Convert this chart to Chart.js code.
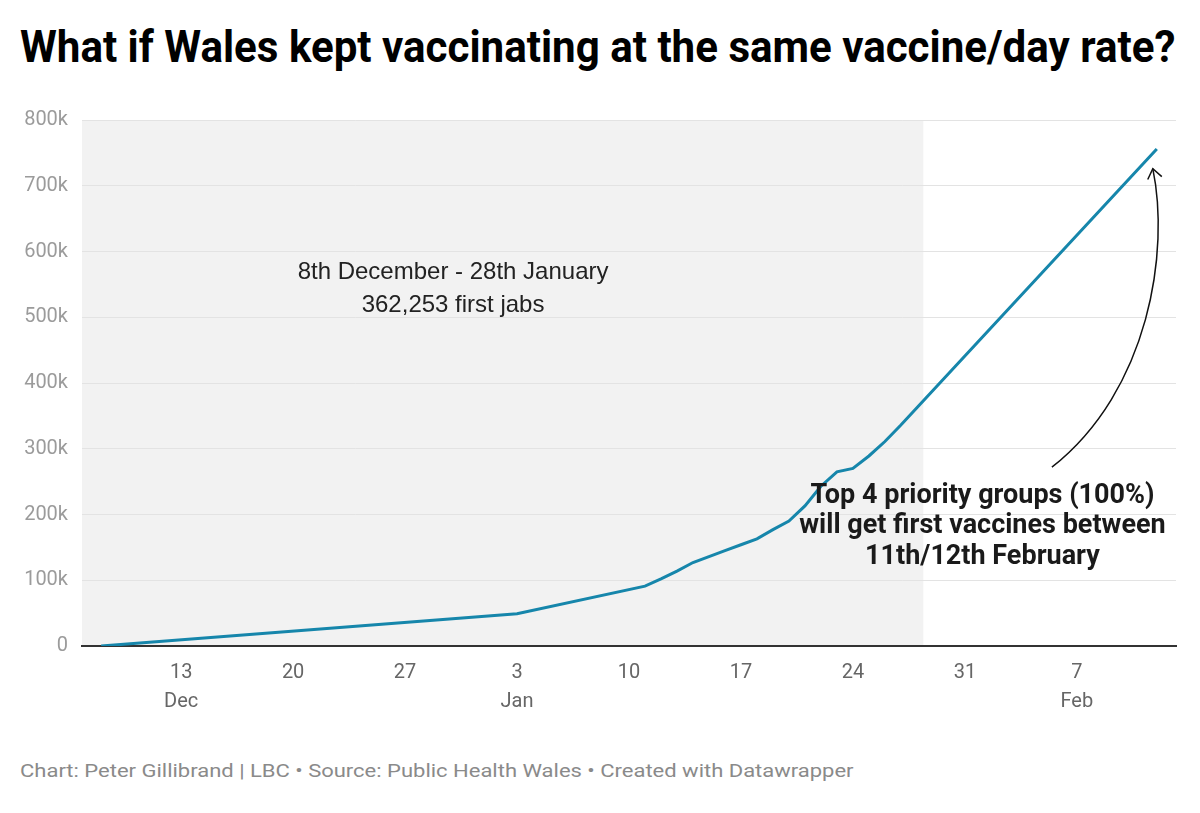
<!DOCTYPE html>
<html>
<head>
<meta charset="utf-8">
<script src="https://cdn.jsdelivr.net/npm/chart.js@4"></script>
<style>
  body { margin: 0; background: #fff; width: 1200px; height: 813px; overflow: hidden; font-family: Roboto, sans-serif; }
  #title { position: absolute; left: 20px; top: 20px; font-size: 45px; font-weight: 700; color: #000; white-space: nowrap; transform-origin: 0 0; }
  #chartBox { position: absolute; left: 0; top: 94px; width: 1200px; height: 626px; }
  #footer { position: absolute; left: 20px; top: 760px; font-size: 18px; color: #8a8a8a; white-space: nowrap; transform-origin: 0 0; }
</style>
</head>
<body>
<div id="title">What if Wales kept vaccinating at the same vaccine/day rate?</div>
<div id="chartBox"><canvas id="vaxChart"></canvas></div>
<div id="footer">Chart: Peter Gillibrand | LBC • Source: Public Health Wales • Created with Datawrapper</div>
<script>
// days counted from 8th December
const days = [0, 26, 34, 35, 36, 37, 38, 39, 40, 41, 42, 43, 44, 45, 46, 47, 48, 49, 50, 51, 66];
const firstJabs = [0, 49000, 91000, 102000, 114000, 127000, 136000, 145000, 154000, 163000, 177000, 190000, 213000, 243000, 265000, 270000, 289000, 311000, 336000, 362253, 756000];

const tickDays = [5, 12, 19, 26, 33, 40, 47, 54, 61];
const tickLabels = [['13', 'Dec'], ['20', ''], ['27', ''], ['3', 'Jan'], ['10', ''], ['17', ''], ['24', ''], ['31', ''], ['7', 'Feb']];
const yTicks = [0, 100000, 200000, 300000, 400000, 500000, 600000, 700000, 800000];

const shadeEnd = 51.4; // 28th January
const periodNote = ['8th December - 28th January', '362,253 first jabs'];
const periodNoteAt = [22, 569000];
const groupsNote = ['Top 4 priority groups (100%)', 'will get first vaccines between', '11th/12th February'];
const groupsNoteAt = [55.1, 228000];
const arrowPath = [[59.44, 272000], [65.56, 389000], [66.81, 602000], [65.75, 726000]];

// squeeze title & footer to fit like the condensed original
function fitWidth(id, w) {
  const el = document.getElementById(id);
  el.style.transform = 'scaleX(' + (w / el.offsetWidth) + ')';
}
fitWidth('title', 1155);
fitWidth('footer', 833);

const shadePlugin = {
  id: 'shade',
  beforeDraw(chart) {
    const { ctx, chartArea, scales } = chart;
    const xEnd = scales.x.getPixelForValue(shadeEnd);
    ctx.save();
    ctx.fillStyle = '#f2f2f2';
    ctx.fillRect(chartArea.left, chartArea.top, xEnd - chartArea.left, chartArea.bottom - chartArea.top);
    ctx.restore();
  }
};

const notesPlugin = {
  id: 'notes',
  afterDraw(chart) {
    const { ctx, scales } = chart;
    const px = p => [scales.x.getPixelForValue(p[0]), scales.y.getPixelForValue(p[1])];
    ctx.save();
    ctx.textAlign = 'center';
    ctx.textBaseline = 'middle';

    let [x, y] = px(periodNoteAt);
    ctx.fillStyle = '#222';
    ctx.font = '24px "Liberation Sans", Arial, sans-serif';
    periodNote.forEach((line, i) => ctx.fillText(line, x, y + i * 33));

    [x, y] = px(groupsNoteAt);
    ctx.font = 'bold 27px Roboto';
    ctx.fillStyle = '#1a1a1a';
    groupsNote.forEach((line, i) => ctx.fillText(line, x, y + i * 30.5));

    // curved arrow
    const pts = arrowPath.map(px);
    ctx.strokeStyle = '#111';
    ctx.lineWidth = 1.5;
    ctx.beginPath();
    ctx.moveTo(pts[0][0], pts[0][1]);
    ctx.bezierCurveTo(pts[1][0], pts[1][1], pts[2][0], pts[2][1], pts[3][0], pts[3][1]);
    ctx.stroke();
    const ang = Math.atan2(pts[3][1] - pts[2][1], pts[3][0] - pts[2][0]);
    const head = 12;
    ctx.beginPath();
    ctx.moveTo(pts[3][0] + head * Math.cos(ang + 2.5), pts[3][1] + head * Math.sin(ang + 2.5));
    ctx.lineTo(pts[3][0], pts[3][1]);
    ctx.lineTo(pts[3][0] + head * Math.cos(ang - 2.5), pts[3][1] + head * Math.sin(ang - 2.5));
    ctx.stroke();
    ctx.restore();
  }
};

new Chart(document.getElementById('vaxChart'), {
  type: 'line',
  data: {
    datasets: [{
      data: days.map((d, i) => ({ x: d, y: firstJabs[i] })),
      borderColor: '#1686ab',
      borderWidth: 3,
      pointRadius: 0,
      tension: 0,
      fill: false
    }]
  },
  options: {
    responsive: true,
    maintainAspectRatio: false,
    animation: false,
    layout: { padding: { top: 14, right: 24, bottom: 0, left: 0 } },
    plugins: {
      legend: { display: false },
      tooltip: { enabled: false }
    },
    scales: {
      x: {
        type: 'linear',
        min: -1.2,
        max: 67.2,
        afterBuildTicks: scale => { scale.ticks = tickDays.map(v => ({ value: v })); },
        afterFit: scale => { scale.height = 74; },
        grid: { display: false, drawTicks: false },
        border: { color: '#333', width: 2 },
        ticks: {
          autoSkip: false,
          maxRotation: 0,
          padding: 12,
          color: '#666',
          font: { family: 'Roboto', size: 20, lineHeight: 1.45 },
          callback: (v, i) => tickLabels[i]
        }
      },
      y: {
        min: 0,
        max: 800000,
        afterBuildTicks: scale => { scale.ticks = yTicks.map(v => ({ value: v })); },
        afterFit: scale => { scale.width = 82; },
        grid: { color: '#e3e3e3', lineWidth: 1, drawTicks: false },
        border: { display: false },
        ticks: {
          padding: 14,
          color: '#9b9b9b',
          font: { family: 'Roboto', size: 20 },
          callback: v => v === 0 ? '0' : (v / 1000) + 'k'
        }
      }
    }
  },
  plugins: [shadePlugin, notesPlugin]
});
</script>
</body>
</html>
